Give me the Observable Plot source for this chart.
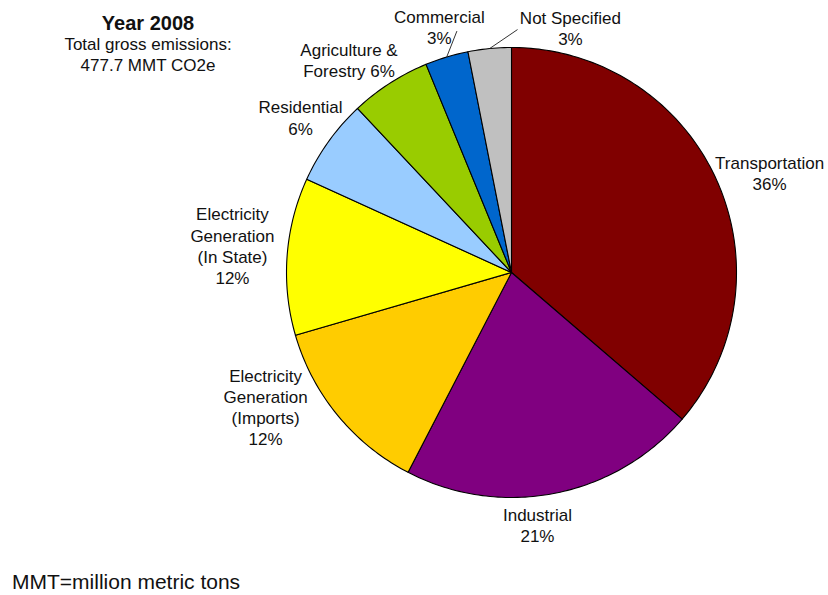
<!DOCTYPE html>
<html><head><meta charset="utf-8">
<script src="https://cdn.jsdelivr.net/npm/d3@7"></script>
<script src="https://cdn.jsdelivr.net/npm/@observablehq/plot@0.6"></script>
<style>
body{margin:0;background:#fff;font-family:"Liberation Sans",Arial,sans-serif;color:#111;}
#wrap{position:relative;width:828px;height:595px;overflow:hidden;}
#chart{position:absolute;left:0;top:0;}
#title{position:absolute;left:0;top:12px;width:296px;text-align:center;}
#title .t{font-weight:bold;font-size:20px;line-height:22px;}
#title .s{font-size:17px;line-height:21px;}
#caption{position:absolute;left:12px;top:570px;font-size:21px;line-height:24px;}
</style></head><body>
<div id="wrap"><div id="chart"></div><div id="title"></div><div id="caption"></div></div>
<script>
// ---- data ----
const categories = ["Transportation","Industrial","Electricity Generation (Imports)","Electricity Generation (In State)","Residential","Agriculture & Forestry","Commercial","Not Specified"];
const shares = [36.3, 21.3, 12.9, 11.3, 6.2, 5.8, 3.1, 3.1];
const colors = ["#800000","#800080","#FFCC00","#FFFF00","#99CCFF","#99CC00","#0066CC","#C0C0C0"];
const labels = ["Transportation\n36%","Industrial\n21%","Electricity\nGeneration\n(Imports)\n12%","Electricity\nGeneration\n(In State)\n12%","Residential\n6%","Agriculture &\nForestry 6%","Commercial\n3%","Not Specified\n3%"];
const titleText = "Year 2008";
const subtitleLines = ["Total gross emissions:", "477.7 MMT CO2e"];
const captionText = "MMT=million metric tons";

// ---- layout ----
const W = 828, H = 560, CX = 511, CY = 272, R = 225;
// label placement: radius factor, angle shift in degrees
const labelPlace = [[1.23,3.5],[1.126,5.1],[1.245,10.8],[1.246,1.4],[1.164,0.7],[1.19,-4.6],[1.139,0.4],[1.12,19.1]];
const leaders = [{i:6, r:1.10, shift:4},{i:7, r:1.08, shift:7}];

const deg = Math.PI/180;
const total = d3.sum(shares);
let cum = 0;
const slices = categories.map((c,i)=>{
  const a0 = cum/total*2*Math.PI; cum += shares[i]; const a1 = cum/total*2*Math.PI;
  return {category:c, a0, a1, mid:(a0+a1)/2, label:labels[i], i};
});
const pt = (a, r) => [r*Math.sin(a), -r*Math.cos(a)];
const features = slices.map(s => {
  const ring = [[0,0]];
  const n = Math.max(2, Math.ceil((s.a1-s.a0)/deg));
  for (let k=0;k<=n;k++) ring.push(pt(s.a0+(s.a1-s.a0)*k/n, 1));
  ring.push([0,0]);
  return {type:"Feature", properties:{category:s.category}, geometry:{type:"Polygon", coordinates:[ring]}};
});
const labelPts = slices.map(s => {
  const [rf, sh] = labelPlace[s.i];
  const p = pt(s.mid + sh*deg, rf);
  return {x:p[0], y:p[1], label:s.label};
});
const leaderLines = leaders.map(l => {
  const s = slices[l.i];
  const p1 = pt(s.mid, 1), p2 = pt(s.mid + l.shift*deg, l.r);
  return {x1:p1[0], y1:p1[1], x2:p2[0], y2:p2[1]};
});
// the projection domain covers the whole frame so the pie sits at (CX, CY) with radius R
const x0 = -CX/R, x1 = (W-CX)/R, y0 = -CY/R, y1 = (H-CY)/R;
const domain = {type:"Polygon", coordinates:[[[x0,y0],[x1,y0],[x1,y1],[x0,y1],[x0,y0]]]};

const chart = Plot.plot({
  width: W, height: H,
  margin: 0,
  projection: {type: "identity", domain},
  color: {domain: categories, range: colors},
  style: {fontFamily: '"Liberation Sans", Arial, sans-serif', background: "#fff"},
  marks: [
    Plot.geo(features, {fill: d => d.properties.category, stroke: "#000", strokeWidth: 1.1}),
    Plot.link(leaderLines, {x1:"x1", y1:"y1", x2:"x2", y2:"y2", stroke:"#333", strokeWidth:1, curve:"linear"}),
    Plot.text(labelPts, {x:"x", y:"y", text:"label", fontSize:17, lineHeight:1.25, fill:"#111", textAnchor:"middle", lineAnchor:"middle"})
  ]
});
document.getElementById("chart").appendChild(chart);
document.getElementById("title").innerHTML = `<div class="t">${titleText}</div>` + subtitleLines.map(s=>`<div class="s">${s}</div>`).join("");
document.getElementById("caption").textContent = captionText;
</script>
</body></html>
